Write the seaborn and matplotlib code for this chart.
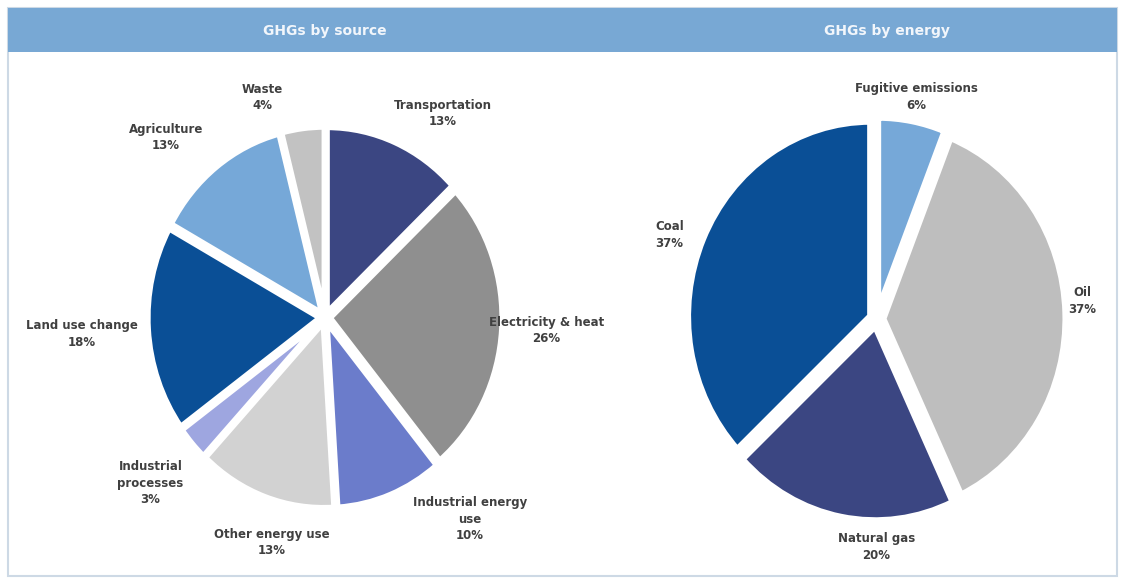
import numpy as np
import matplotlib
matplotlib.use("Agg")
import matplotlib.pyplot as plt
import seaborn as sns
from matplotlib.patches import Rectangle

sns.set_theme(style="white")
plt.rcParams['font.family'] = ['DejaVu Sans']

# ---- data ----
source_labels = ["Transportation", "Electricity & heat", "Industrial energy\nuse", "Other energy use",
                 "Industrial\nprocesses", "Land use change", "Agriculture", "Waste"]
source_values = [13, 26, 10, 13, 3, 18, 13, 4]
source_colors = ["#3b4682", "#8f8f8f", "#6b7ccb", "#d2d2d2", "#9ea6e0", "#0a4f96", "#76a8d8", "#c2c2c2"]

energy_labels = ["Fugitive emissions", "Oil", "Natural gas", "Coal"]
energy_values = [6, 37, 20, 37]
energy_colors = ["#76a8d8", "#bebebe", "#3b4682", "#0a4f96"]

titles = ["GHGs by source", "GHGs by energy"]

# label placement (style): distance from centre and angular nudge in degrees
source_lab_dist = [1.30, 1.29, 1.38, 1.255, 1.353, 1.415, 1.342, 1.244]
source_lab_nudge = [-8.5, 0.5, 16.1, 5.6, 0.0, 0.0, 5.7, 9.9]
energy_lab_dist = [1.16, 1.13, 1.17, 1.21]
energy_lab_nudge = [0.0, 2.9, 10.8, 2.6]

W, H = 1125, 581
fig = plt.figure(figsize=(W / 100, H / 100), dpi=100)
fig.patch.set_facecolor("white")

# outer frame and header bar
fig.patches.append(Rectangle((8 / W, 1 - 576 / H), 1109 / W, 568 / H, transform=fig.transFigure,
                             facecolor="none", edgecolor="#cdd9e5", linewidth=1.5))
fig.patches.append(Rectangle((8 / W, 1 - 52 / H), 1109 / W, 44 / H, transform=fig.transFigure,
                             facecolor="#78a8d4", edgecolor="none"))

def make_ax(x0, x1, y0, y1):
    return fig.add_axes([x0 / W, 1 - y1 / H, (x1 - x0) / W, (y1 - y0) / H])

def finish_ax(ax, x0, x1, y0, y1, cx, cy, rx, ry):
    ax.set_aspect("auto")
    ax.set_xlim((x0 - cx) / rx, (x1 - cx) / rx)
    ax.set_ylim(-(y1 - cy) / ry, (cy - y0) / ry)
    ax.set_axis_off()

def draw(ax, values, colors, labels, labdist, nudge, explode, lw):
    wedges, _ = ax.pie(values, colors=colors, startangle=90, counterclock=False,
                       explode=[explode] * len(values),
                       wedgeprops=dict(edgecolor="white", linewidth=lw))
    total = sum(values)
    for w, lab, v, d, n in zip(wedges, labels, values, labdist, nudge):
        ang = np.deg2rad((w.theta1 + w.theta2) / 2 + n)
        pct = round(v / total * 100)
        ax.text(d * np.cos(ang), d * np.sin(ang), f"{lab}\n{pct}%", ha="center", va="center",
                fontsize=8.5, fontweight="bold", color="#404040", linespacing=1.35)

box1 = (8, 560, 55, 575)
ax1 = make_ax(*box1)
draw(ax1, source_values, source_colors, source_labels, source_lab_dist, source_lab_nudge, 0.03, 4)
finish_ax(ax1, *box1, 325, 317.5, 172, 185)

box2 = (560, 1117, 55, 575)
ax2 = make_ax(*box2)
draw(ax2, energy_values, energy_colors, energy_labels, energy_lab_dist, energy_lab_nudge, 0.035, 5)
finish_ax(ax2, *box2, 876.5, 319, 183, 195)

fig.text(325 / W, 1 - 31 / H, titles[0], ha="center", va="center", color="#f2f6fb",
         fontsize=10, fontweight="bold")
fig.text(887 / W, 1 - 31 / H, titles[1], ha="center", va="center", color="#f2f6fb",
         fontsize=10, fontweight="bold")

fig.savefig("out.png", dpi=100)
